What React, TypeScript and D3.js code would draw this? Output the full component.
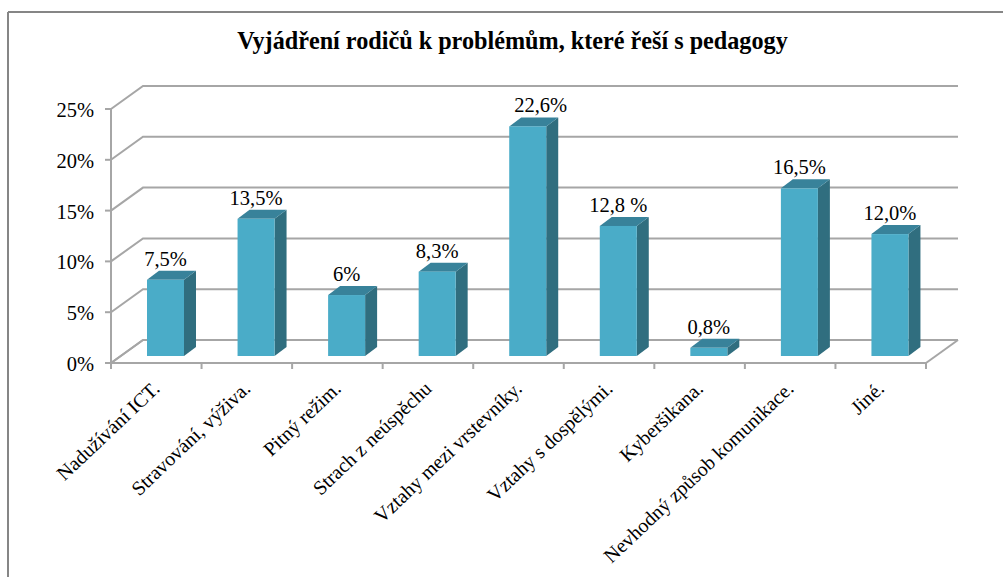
import React from "react";
import * as d3 from "d3";

const categories = ["Nadužívání ICT.", "Stravování, výživa.", "Pitný režim.", "Strach z neúspěchu", "Vztahy mezi vrstevníky.", "Vztahy s dospělými.", "Kyberšikana.", "Nevhodný způsob komunikace.", "Jiné."];
const values = [7.5, 13.5, 6, 8.3, 22.6, 12.8, 0.8, 16.5, 12.0];
const valueLabels = ["7,5%", "13,5%", "6%", "8,3%", "22,6%", "12,8 %", "0,8%", "16,5%", "12,0%"];
const labelShifts = [0, 0, 0, 0, 13, 0, 0, 0, 0];
const yTicks = [0, 5, 10, 15, 20, 25];
const title = "Vyjádření rodičů k problémům, které řeší s pedagogy";

const font = "'Liberation Serif', 'Times New Roman', serif";
const gridColor = "#a6a6a6";
const W = 1003, H = 577;
const x0 = 111, x1 = 926, y0 = 363, y25 = 109;
const backDx = 32, backDy = -23;
const barDx = 12, barDy = -9;

export default function App() {
  const y = d3.scaleLinear().domain([0, 25]).range([y0, y25]);
  const x = d3.scaleBand<string>().domain(categories).range([x0, x1]);
  const bw = 37;
  const barBase = y0 - 7;
  const h = (v: number) => y0 - y(v);
  const edges = categories.map((_, i) => x0 + i * x.step());
  edges.push(x1);
  return (
    <svg width={W} height={H} viewBox={`0 0 ${W} ${H}`} style={{ position: "absolute", left: 0, top: 0, background: "#fff" }}>
      <line x1={8} y1={12} x2={W} y2={12} stroke="#868686" strokeWidth={2} />
      <line x1={8} y1={12} x2={8} y2={H} stroke="#868686" strokeWidth={2} />
      <text x={512.5} y={49} textAnchor="middle" fontFamily={font} fontWeight="bold" fontSize={24.2} fill="#000">{title}</text>

      {yTicks.map(t => (
        <g key={t} stroke={gridColor} strokeWidth={2} fill="none">
          <path d={`M${x0},${y(t)}L${x0 + backDx},${y(t) + backDy}L${x1 + backDx},${y(t) + backDy}`} />
          <line x1={x0 - 6} x2={x0} y1={y(t)} y2={y(t)} />
        </g>
      ))}
      <line x1={x0} x2={x0} y1={y25} y2={y0} stroke={gridColor} strokeWidth={2} />
      <line x1={x0 + backDx} x2={x0} y1={y0 + backDy} y2={y0} stroke={gridColor} strokeWidth={2} />
      <line x1={x0} x2={x1} y1={y0} y2={y0} stroke={gridColor} strokeWidth={2} />
      <line x1={x1} x2={x1 + backDx} y1={y0} y2={y0 + backDy} stroke={gridColor} strokeWidth={2} />
      {edges.map((e, i) => <line key={i} x1={e} x2={e} y1={y0} y2={y0 + 6} stroke={gridColor} strokeWidth={2} />)}

      {yTicks.map(t => (
        <text key={t} x={94} y={y(t) + 8} textAnchor="end" fontFamily={font} fontSize={20.5} fill="#000">{t}%</text>
      ))}

      {categories.map((c, i) => {
        const bx = (x(c) as number) + 36;
        const top = barBase - h(values[i]);
        return (
          <g key={c}>
            <path d={`M${bx + bw},${top}l${barDx},${barDy}V${barBase + barDy}L${bx + bw},${barBase}Z`} fill="#306e7f" />
            <path d={`M${bx},${top}l${barDx},${barDy}h${bw}l${-barDx},${-barDy}Z`} fill="#38829a" />
            <rect x={bx} y={top} width={bw} height={barBase - top} fill="#4aacc8" />
            <text x={bx + bw / 2 + labelShifts[i]} y={top - 14} textAnchor="middle" fontFamily={font} fontSize={20.5} fill="#000">{valueLabels[i]}</text>
            <text transform={`translate(${bx + 14},${y0 + 27}) rotate(-43.5)`} textAnchor="end" fontFamily={font} fontSize={20} fill="#000">{c}</text>
          </g>
        );
      })}
    </svg>
  );
}
